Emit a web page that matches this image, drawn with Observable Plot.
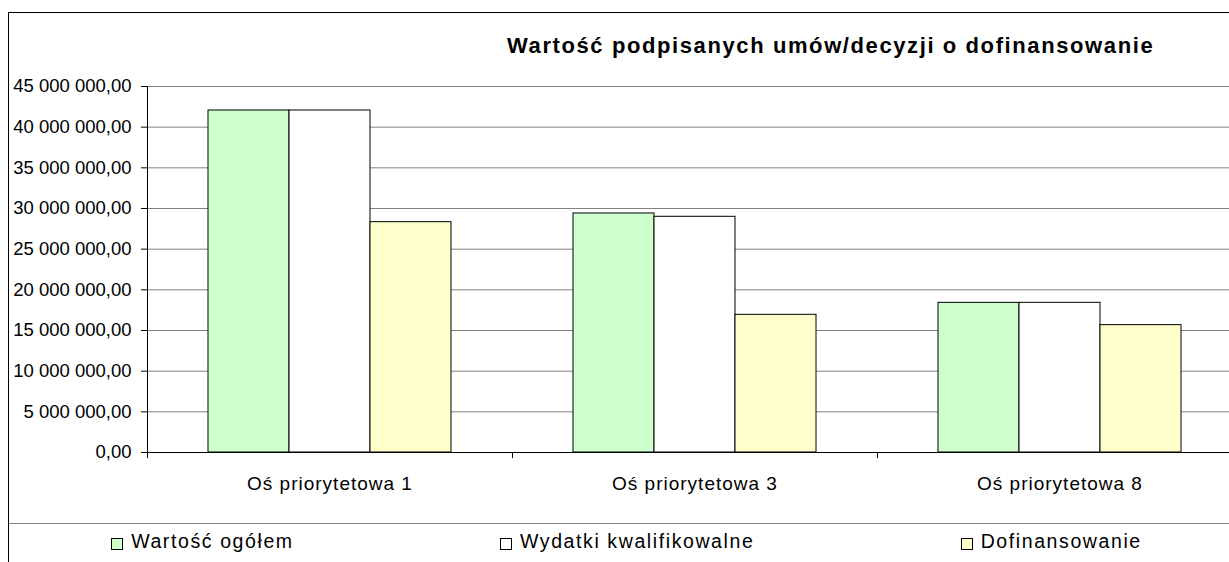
<!DOCTYPE html>
<html>
<head>
<meta charset="utf-8">
<script src="https://cdn.jsdelivr.net/npm/d3@7"></script>
<script src="https://cdn.jsdelivr.net/npm/@observablehq/plot@0.6"></script>
<style>
  html, body { margin: 0; padding: 0; background: #fff; overflow: hidden; }
  #wrap { position: relative; width: 1229px; height: 562px; overflow: hidden; background: #fff;
          font-family: "Liberation Sans", Arial, sans-serif; color: #000; }
  #border { position: absolute; left: 8px; top: 12px; width: 1400px; height: 700px; border: 1px solid #000; box-sizing: border-box; }
  #legendRule { position: absolute; left: 9px; top: 523px; width: 1400px; border-top: 1px solid #808080; }
  #title { position: absolute; left: 507px; top: 35px; font-size: 22px; line-height: 22px; font-weight: bold; white-space: nowrap; letter-spacing: 1.6px; }
  #chart { position: absolute; left: 0; top: 0; }
  #legend { position: absolute; left: 8px; top: 532px; width: 1237px; display: flex; justify-content: space-around;
            font-size: 19.5px; line-height: 19.5px; letter-spacing: 1.6px; }
  .item { display: flex; align-items: flex-start; white-space: nowrap; }
  .sw { width: 12px; height: 12px; border: 1px solid #000; box-sizing: border-box; margin-top: 6px; margin-right: 8px; }
  g[aria-label="fx-axis tick label"] text { letter-spacing: 1px; }
</style>
</head>
<body>
<div id="wrap">
  <div id="border"></div>
  <div id="legendRule"></div>
  <div id="chart"></div>
  <div id="title"></div>
  <div id="legend"></div>
</div>
<script>
// ---- data ----
const title = "Wartość podpisanych umów/decyzji o dofinansowanie";
const categories = ["Oś priorytetowa 1", "Oś priorytetowa 3", "Oś priorytetowa 8"];
const series = ["Wartość ogółem", "Wydatki kwalifikowalne", "Dofinansowanie"];
const wartoscOgolem = [42050000, 29390000, 18400000];
const wydatkiKwalifikowalne = [42050000, 28980000, 18400000];
const dofinansowanie = [28320000, 16930000, 15660000];
const seriesColors = ["#CCFFCC", "#FFFFFF", "#FFFFCC"];
const yTicks = [0, 5000000, 10000000, 15000000, 20000000, 25000000, 30000000, 35000000, 40000000, 45000000];

const valuesBySeries = [wartoscOgolem, wydatkiKwalifikowalne, dofinansowanie];
const table = [];
categories.forEach((c, i) => series.forEach((s, j) => table.push({cat: c, series: s, value: valuesBySeries[j][i]})));

const fmt = d3.formatLocale({decimal: ",", thousands: "\u00a0", grouping: [3], currency: ["", ""]}).format(",.2f");

// category boundary tick marks (drawn in every facet at its left edge, below the baseline)
const boundaryTicks = (index, scales, values, dimensions) => {
  const g = d3.create("svg:g");
  const x0 = Math.min(...scales.x.range());
  const y0 = scales.y(0);
  g.append("line").attr("x1", x0 + 0.5).attr("x2", x0 + 0.5).attr("y1", y0).attr("y2", y0 + 6)
    .attr("stroke", "#000");
  return g.node();
};

const chart = Plot.plot({
  width: 1242,
  height: 562,
  marginTop: 86,
  marginBottom: 110,
  marginLeft: 147,
  marginRight: 0,
  style: {fontFamily: "'Liberation Sans', Arial, sans-serif", maxWidth: "none", background: "transparent", color: "#000"},
  fx: {domain: categories, padding: 0},
  x: {domain: series, paddingInner: 0, paddingOuter: 0.74, axis: null},
  y: {domain: [0, 45000000]},
  color: {domain: series, range: seriesColors},
  marks: [
    Plot.ruleY(yTicks, {stroke: "#808080", strokeWidth: 1}),
    Plot.barY(table, {fx: "cat", x: "series", y: "value", fill: "series", stroke: "#000", strokeWidth: 1}),
    Plot.ruleY([0], {stroke: "#000"}),
    Plot.frame({anchor: "left", facetAnchor: "left", stroke: "#000"}),
    boundaryTicks,
    Plot.axisY(yTicks, {tickFormat: fmt, tickSize: 6, tickPadding: 10, fontSize: 18.5, label: null, stroke: "#000"}),
    Plot.axisFx({anchor: "bottom", tickSize: 0, tickPadding: 24, fontSize: 19, label: null})
  ]
});
document.getElementById("chart").appendChild(chart);

document.getElementById("title").textContent = title;

const legend = document.getElementById("legend");
series.forEach((s, i) => {
  const item = document.createElement("div");
  item.className = "item";
  const sw = document.createElement("div");
  sw.className = "sw";
  sw.style.background = seriesColors[i];
  const t = document.createElement("span");
  t.textContent = s;
  item.appendChild(sw);
  item.appendChild(t);
  legend.appendChild(item);
});
</script>
</body>
</html>
